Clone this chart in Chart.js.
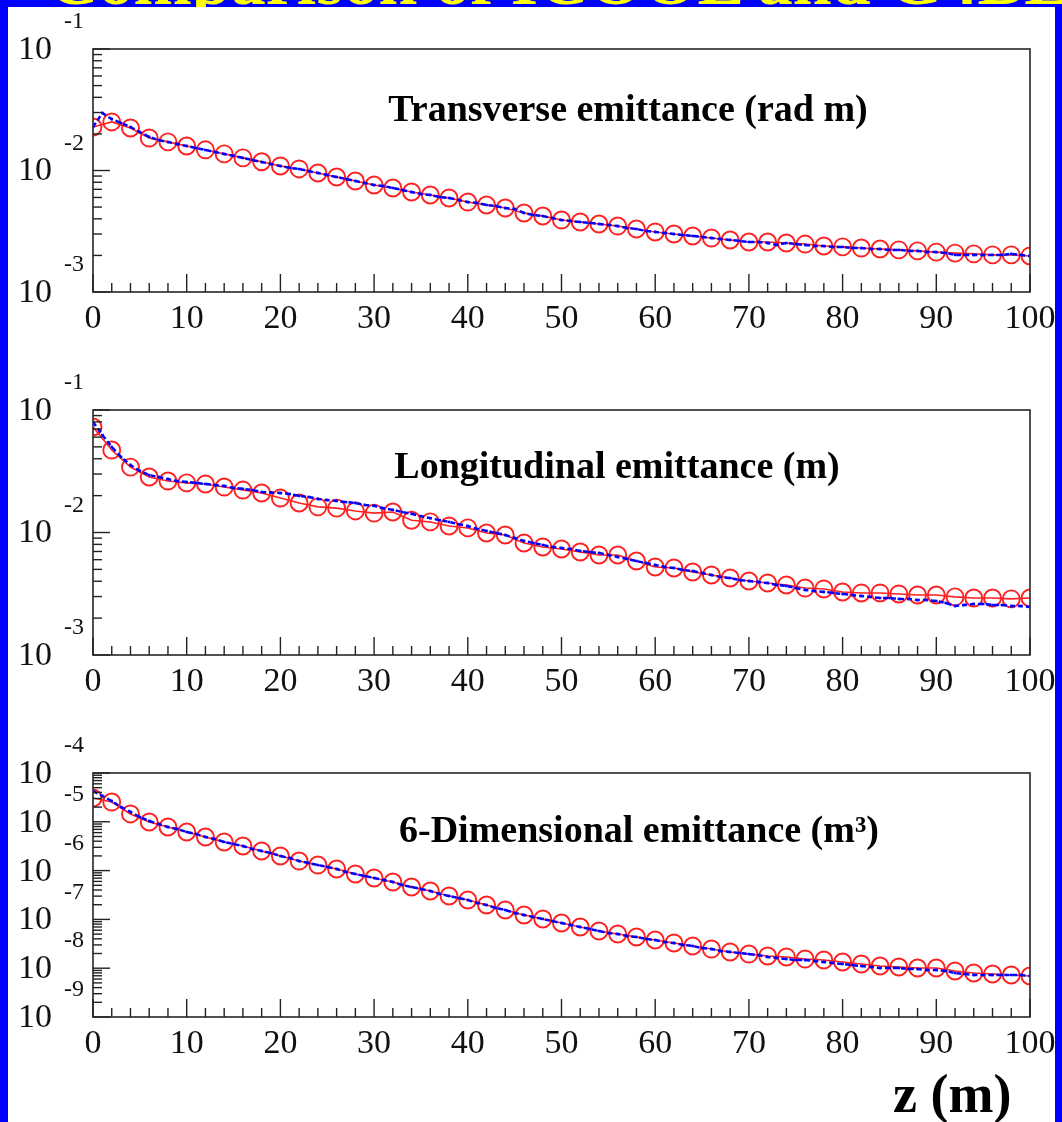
<!DOCTYPE html>
<html>
<head>
<meta charset="utf-8">
<script src="https://cdn.jsdelivr.net/npm/chart.js@4.4.1/dist/chart.umd.min.js"></script>
<style>
  body { margin:0; width:1062px; height:1122px; background:#0000ff; overflow:hidden; position:relative; }
  #title { position:absolute; left:48px; top:-54px; font:bold 70px/1 "Liberation Serif", serif; color:#ffff00; white-space:nowrap; }
  #sheet { position:absolute; left:8px; top:7px; width:1047px; height:1115px; background:#fff; }
  .panel { position:absolute; left:0; }
  #zlabel { position:absolute; left:893px; top:1067px; font:bold 54px/1 "Liberation Serif", serif; color:#000; }
</style>
</head>
<body>
<div id="title">Comparison of ICOOL and G4BL</div>
<div id="sheet"></div>
<canvas id="c1" class="panel" width="1062" height="360" style="top:4px"></canvas>
<canvas id="c2" class="panel" width="1062" height="362" style="top:365px"></canvas>
<canvas id="c3" class="panel" width="1062" height="361" style="top:728px"></canvas>
<div id="zlabel">z (m)</div>
<script>
// z positions (m)
const zCoarse = [0,2,4,6,8,10,12,14,16,18,20,22,24,26,28,30,32,34,36,38,40,42,44,46,48,50,
  52,54,56,58,60,62,64,66,68,70,72,74,76,78,80,82,84,86,88,90,92,94,96,98,100];
const zFine = [0,1,2,3,4,5,6,7,8,9,10,11,12,13,14,15,16,17,18,19,20,21,22,23,24,25,26,27,28,29,30,
  31,32,33,34,35,36,37,38,39,40,41,42,43,44,45,46,47,48,49,50,51,52,53,54,55,56,57,58,59,60,
  61,62,63,64,65,66,67,68,69,70,71,72,73,74,75,76,77,78,79,80,81,82,83,84,85,86,87,88,89,90,
  91,92,93,94,95,96,97,98,99,100];
const xTickLabels = ['0','10','20','30','40','50','60','70','80','90','100'];

// transverse emittance (rad m)
const transRed = [0.0228,0.0251,0.0224,0.0185,0.0172,0.0159,0.0148,0.0137,0.0127,0.0118,0.0109,
  0.0103,0.00954,0.00884,0.0082,0.0076,0.00718,0.00665,0.00629,0.00594,0.0055,0.0052,0.00491,
  0.00447,0.00422,0.00391,0.00377,0.00363,0.00349,0.0033,0.00312,0.003,0.00289,0.00278,0.00268,
  0.00258,0.00258,0.00253,0.00248,0.00239,0.00235,0.0023,0.00226,0.00222,0.00218,0.00213,
  0.00209,0.00206,0.00202,0.00202,0.00198];
const transBlue = [0.0228,0.0297,0.0265,0.0246,0.0228,0.0207,0.0189,0.0178,0.01716,0.0165,0.01591,
  0.0153,0.01475,0.0142,0.01368,0.0132,0.01268,0.0122,0.01175,0.0113,0.01089,0.0105,0.01029,
  0.00991,0.00954,0.00918,0.00884,0.00851,0.0082,0.00789,0.0076,0.00745,0.00718,0.00691,0.00665,
  0.00641,0.00629,0.00605,0.00594,0.00572,0.0055,0.0054,0.0052,0.0051,0.00491,0.00482,0.00447,
  0.0043,0.00422,0.00406,0.00391,0.00384,0.00377,0.0037,0.00363,0.00356,0.00349,0.00336,0.0033,
  0.00318,0.00312,0.00306,0.003,0.00294,0.00289,0.00284,0.00278,0.00273,0.00268,0.00263,0.00258,
  0.00258,0.00253,0.00244,0.00253,0.00248,0.00244,0.00239,0.00239,0.00235,0.00235,0.0023,0.0023,
  0.00226,0.00226,0.00222,0.00222,0.00218,0.00218,0.00213,0.00213,0.00209,0.00202,0.00202,
  0.00202,0.00202,0.00202,0.00202,0.00206,0.00202,0.00198];

// longitudinal emittance (m)
const longRed = [0.0726,0.0471,0.0342,0.0284,0.0263,0.0254,0.0249,0.0235,0.0222,0.021,0.0191,
  0.0174,0.0162,0.0158,0.015,0.0144,0.0147,0.0126,0.0122,0.0113,0.0109,0.00991,0.00954,0.00821,
  0.00762,0.00733,0.00693,0.00655,0.00655,0.00585,0.00523,0.00513,0.00476,0.0045,0.00425,
  0.00402,0.00387,0.00373,0.00352,0.00346,0.00327,0.00321,0.00321,0.00315,0.00309,0.00309,
  0.00298,0.00292,0.00292,0.00287,0.00292];
const longBlue = [0.0798,0.0625,0.0499,0.0413,0.0356,0.0318,0.0294,0.0284,0.0273,0.0263,0.0258,
  0.0254,0.0249,0.0244,0.024,0.0231,0.0227,0.0222,0.0214,0.0212,0.021,0.0206,0.0199,0.0195,
  0.0188,0.0184,0.0181,0.0177,0.0174,0.0168,0.0165,0.0158,0.0153,0.0147,0.0142,0.0136,0.0131,
  0.0126,0.0122,0.0117,0.0113,0.0107,0.0103,0.00991,0.00954,0.00902,0.00853,0.00821,0.00791,
  0.00762,0.00747,0.00733,0.00706,0.00693,0.00681,0.00655,0.00631,0.00608,0.00585,0.00564,
  0.00543,0.00523,0.00513,0.00494,0.00485,0.00467,0.0045,0.00433,0.00425,0.00409,0.00402,
  0.00394,0.00387,0.00373,0.00366,0.00352,0.0034,0.00333,0.00327,0.00321,0.00315,0.00309,
  0.00303,0.00298,0.00292,0.00292,0.00287,0.00287,0.00281,0.00281,0.00276,0.00266,0.00251,
  0.00256,0.00261,0.00261,0.00256,0.00256,0.00251,0.00251,0.00247];

// 6-dimensional emittance (m^3)
const sixRed = [3.07e-5,2.54e-5,1.45e-5,9.91e-6,7.82e-6,6.18e-6,4.88e-6,3.86e-6,3.19e-6,2.52e-6,
  1.99e-6,1.57e-6,1.30e-6,1.08e-6,8.52e-7,7.05e-7,5.84e-7,4.61e-7,3.82e-7,3.02e-7,2.50e-7,
  1.97e-7,1.56e-7,1.23e-7,1.02e-7,8.44e-8,6.99e-8,5.79e-8,5.02e-8,4.36e-8,3.78e-8,3.28e-8,
  2.85e-8,2.47e-8,2.15e-8,1.95e-8,1.78e-8,1.70e-8,1.54e-8,1.47e-8,1.34e-8,1.22e-8,1.11e-8,
  1.06e-8,1.01e-8,1.01e-8,8.76e-9,7.97e-9,7.60e-9,7.26e-9,6.92e-9];
const sixBlue = [4.28e-5,3.38e-5,2.67e-5,2.01e-5,1.59e-5,1.25e-5,1.04e-5,9.01e-6,7.82e-6,7.12e-6,
  6.18e-6,5.62e-6,4.88e-6,4.44e-6,3.86e-6,3.51e-6,3.19e-6,2.77e-6,2.52e-6,2.29e-6,1.99e-6,
  1.81e-6,1.57e-6,1.43e-6,1.30e-6,1.19e-6,1.08e-6,9.36e-7,8.52e-7,7.75e-7,7.05e-7,6.42e-7,
  5.84e-7,5.07e-7,4.61e-7,4.20e-7,3.82e-7,3.32e-7,3.02e-7,2.74e-7,2.50e-7,2.17e-7,1.97e-7,
  1.71e-7,1.56e-7,1.35e-7,1.23e-7,1.12e-7,1.02e-7,9.27e-8,8.44e-8,7.68e-8,6.99e-8,6.36e-8,
  5.79e-8,5.26e-8,5.02e-8,4.57e-8,4.36e-8,3.97e-8,3.78e-8,3.44e-8,3.28e-8,2.99e-8,2.85e-8,
  2.59e-8,2.47e-8,2.25e-8,2.15e-8,2.05e-8,1.95e-8,1.86e-8,1.70e-8,1.62e-8,1.54e-8,1.47e-8,
  1.47e-8,1.40e-8,1.34e-8,1.28e-8,1.22e-8,1.16e-8,1.11e-8,1.06e-8,1.01e-8,1.01e-8,1.01e-8,
  9.63e-9,9.63e-9,9.19e-9,9.19e-9,8.76e-9,7.97e-9,7.60e-9,7.26e-9,7.26e-9,7.26e-9,7.26e-9,
  7.26e-9,7.26e-9,6.92e-9];

const SERIF = '"Liberation Serif", "Times New Roman", serif';

// ROOT-like frame, inner ticks, 10^n labels and panel caption
const rootAxes = {
  id: 'rootAxes',
  afterDraw(chart, args, opts) {
    const ctx = chart.ctx;
    const a = chart.chartArea;
    const x = chart.scales.x, y = chart.scales.y;
    const tick = (x0, y0, x1, y1) => { ctx.beginPath(); ctx.moveTo(x0, y0); ctx.lineTo(x1, y1); ctx.stroke(); };
    ctx.save();
    ctx.strokeStyle = '#333';
    ctx.lineWidth = 1.7;
    ctx.strokeRect(a.left, a.top, a.right - a.left, a.bottom - a.top);

    ctx.strokeStyle = '#222';
    ctx.lineWidth = 1.4;
    // x ticks: major every 10, minor every 2
    for (let v = 0; v <= 100; v += 2) {
      const px = x.getPixelForValue(v);
      tick(px, a.bottom, px, a.bottom - (v % 10 === 0 ? 18 : 9));
    }
    ctx.fillStyle = '#111';
    ctx.font = '34px ' + SERIF;
    ctx.textAlign = 'center';
    ctx.textBaseline = 'middle';
    xTickLabels.forEach(t => ctx.fillText(t, x.getPixelForValue(+t), a.bottom + 27));

    // y ticks (log)
    const eMin = Math.round(Math.log10(y.min)), eMax = Math.round(Math.log10(y.max));
    for (let e = eMin; e <= eMax; e++) {
      const base = Math.pow(10, e);
      const py = y.getPixelForValue(base);
      tick(a.left, py, a.left + 17, py);
      if (e < eMax) {
        for (let k = 2; k <= 9; k++) {
          const pm = y.getPixelForValue(k * base);
          tick(a.left, pm, a.left + 9, pm);
        }
      }
      ctx.textAlign = 'right';
      ctx.font = '34px ' + SERIF;
      ctx.fillText('10', 52, py + 1);
      ctx.textAlign = 'left';
      ctx.font = '24px ' + SERIF;
      ctx.fillText(String(e), 64, py - 27);
    }

    // caption
    ctx.font = 'bold ' + opts.size + 'px ' + SERIF;
    ctx.textAlign = 'center';
    ctx.fillStyle = '#000';
    ctx.fillText(opts.text, opts.cx, opts.cy);
    ctx.restore();
  }
};

function pairs(xs, ys) {
  return xs.map((v, i) => ({ x: v, y: ys[i] }));
}

function makePanel(id, red, blue, yMin, yMax, caption) {
  return new Chart(document.getElementById(id), {
    type: 'line',
    data: {
      datasets: [{
        data: pairs(zFine, blue),
        borderColor: '#0000ff',
        borderWidth: 2.5,
        borderDash: [5, 3],
        pointStyle: 'rect',
        pointRadius: 1.8,
        pointBackgroundColor: '#0000ff',
        pointBorderWidth: 0,
        fill: false,
        clip: 0,
        order: 0
      }, {
        data: pairs(zCoarse, red),
        borderColor: '#ff2020',
        borderWidth: 1.6,
        pointStyle: 'circle',
        pointRadius: 8.5,
        pointBorderWidth: 1.9,
        pointBorderColor: '#ff2020',
        pointBackgroundColor: 'rgba(0,0,0,0)',
        fill: false,
        clip: 0,
        order: 1
      }]
    },
    options: {
      responsive: false,
      animation: false,
      events: [],
      layout: { padding: { left: 93, right: 32, top: 45, bottom: 72 } },
      scales: {
        x: { type: 'linear', min: 0, max: 100, display: false },
        y: { type: 'logarithmic', min: yMin, max: yMax, display: false }
      },
      plugins: {
        legend: { display: false },
        tooltip: { enabled: false },
        rootAxes: caption
      }
    },
    plugins: [rootAxes]
  });
}

makePanel('c1', transRed, transBlue, 1e-3, 1e-1,
  { text: 'Transverse emittance (rad m)', cx: 628, cy: 107, size: 38 });
makePanel('c2', longRed, longBlue, 1e-3, 1e-1,
  { text: 'Longitudinal emittance (m)', cx: 617, cy: 103, size: 38 });
makePanel('c3', sixRed, sixBlue, 1e-9, 1e-4,
  { text: '6-Dimensional emittance (m\u00B3)', cx: 639, cy: 104, size: 38 });
</script>
</body>
</html>
